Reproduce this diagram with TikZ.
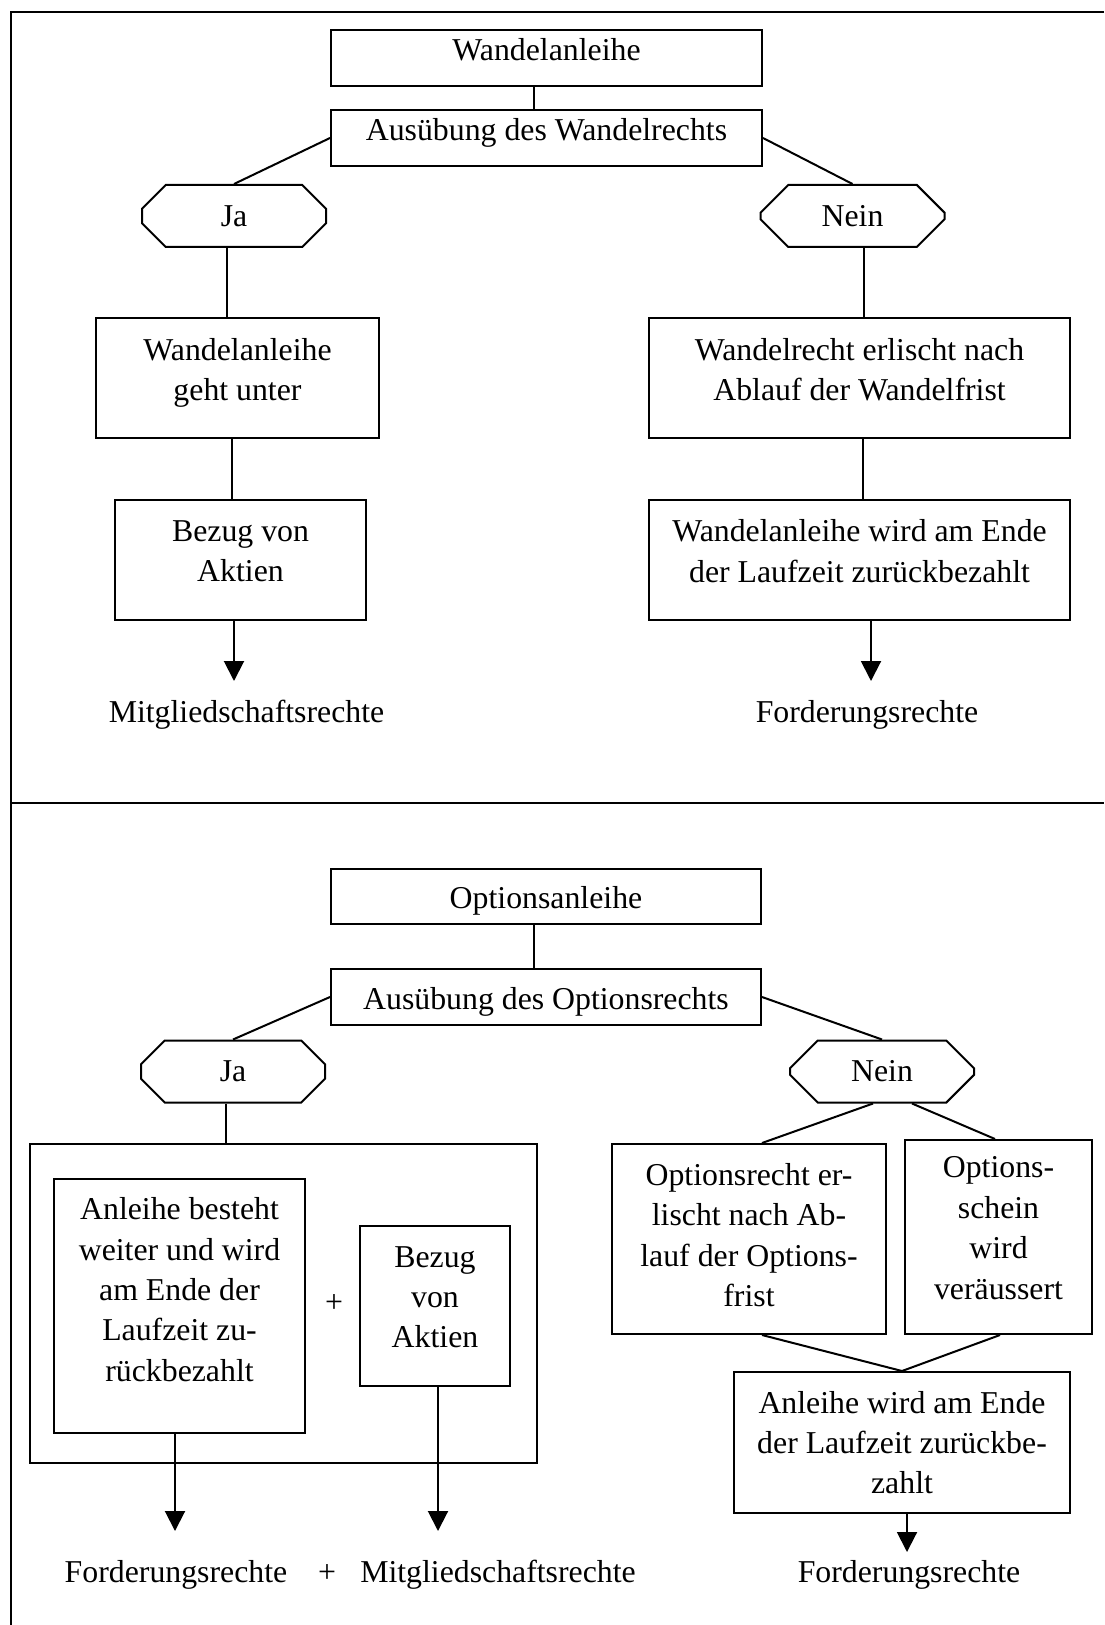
\documentclass[tikz,border=0pt]{standalone}
\usepackage{fontspec}
\setmainfont{Liberation Serif}
\usetikzlibrary{shapes.misc,arrows.meta}

\begin{document}
\begin{tikzpicture}[
        x=0.5pt, y=-0.5pt,
        box/.style={rectangle, draw, line width=1pt, align=center, text depth=9pt, font=\fontsize{15.9}{20.2}\selectfont},
        oct/.style={chamfered rectangle, chamfered rectangle xsep=8.5pt, chamfered rectangle ysep=8.5pt, draw, line width=1pt, minimum width=92pt, minimum height=31pt, inner sep=0pt, font=\fontsize{15.9}{20.2}\selectfont},
        lbl/.style={inner sep=0pt, anchor=base, font=\fontsize{15.9}{20.2}\selectfont},
        link/.style={line width=1pt},
        arr/.style={line width=1pt, -{Triangle[width=10pt,length=10pt]}},
        frame/.style={line width=1.3pt}
    ]
    \useasboundingbox (0,0) rectangle (1104,1625);
    \draw[frame] (1104,12) -- (11,12) -- (11,1625);
    \draw[frame] (11,803) -- (1104,803);

    % Wandelanleihe
    \node[box, minimum width=215.5pt, minimum height=28pt] (wa) at (546.5,58) {Wandelanleihe};
    \node[box, minimum width=215.5pt, minimum height=28pt] (aw) at (546.5,138) {Ausübung des Wandelrechts};
    \node[oct] (ja) at (234,216) {Ja};
    \node[oct] (nein) at (852.5,216) {Nein};
    \node[box, minimum width=141.5pt, minimum height=60pt] (wgu) at (237.5,378.5) {Wandelanleihe\\geht unter};
    \node[box, minimum width=210.5pt, minimum height=60pt] (wef) at (859.5,378.5) {Wandelrecht erlischt nach\\Ablauf der Wandelfrist};
    \node[box, minimum width=125.5pt, minimum height=60pt] (bva) at (240.5,560) {Bezug von\\Aktien};
    \node[box, minimum width=210.5pt, minimum height=60pt] (wzb) at (859.5,560) {Wandelanleihe wird am Ende\\der Laufzeit zurückbezahlt};
    \node[lbl] (mgr) at (246.5,722) {Mitgliedschaftsrechte};
    \node[lbl] (fdr) at (867,722) {Forderungsrechte};
    \coordinate (t1) at (234,681);
    \coordinate (t2) at (871,681);

    \draw[link] ([xshift=-6.25pt]wa.south) -- ([xshift=-6.25pt]aw.north);
    \draw[link] (aw.west) -- (ja.north);
    \draw[link] (aw.east) -- (nein.north);
    \draw[link] ([xshift=-3.5pt]ja.south) -- ([xshift=-5.25pt]wgu.north);
    \draw[link] ([xshift=-2.75pt]wgu.south) -- ([xshift=-4.25pt]bva.north);
    \draw[arr] ([xshift=-3.25pt]bva.south) -- (t1);
    \draw[link] ([xshift=5.75pt]nein.south) -- ([xshift=2.25pt]wef.north);
    \draw[link] ([xshift=1.75pt]wef.south) -- ([xshift=1.75pt]wzb.north);
    \draw[arr] ([xshift=5.75pt]wzb.south) -- (t2);

    % Optionsanleihe
    \node[box, minimum width=215pt, minimum height=27.5pt, text depth=0pt, text height=12pt] (oa) at (546,896.5) {Optionsanleihe};
    \node[box, minimum width=215pt, minimum height=28pt, text depth=3.4pt, text height=16pt] (ao) at (546,997) {Ausübung des Optionsrechts};
    \node[oct] (ja2) at (233,1071.5) {Ja};
    \node[oct] (nein2) at (882,1071.5) {Nein};
    \node[box, minimum width=253.5pt, minimum height=159.5pt] (grp) at (283.5,1303.5) {};
    \node[box, minimum width=125.5pt, minimum height=127pt, text depth=16.5pt] (ab) at (179.5,1306) {Anleihe besteht\\weiter und wird\\am Ende der\\Laufzeit zu-\\rückbezahlt};
    \node[lbl, anchor=center] (plus1) at (334,1304) {+};
    \node[box, minimum width=75pt, minimum height=80pt] (bva2) at (435,1306) {Bezug\\von\\Aktien};
    \node[box, minimum width=137pt, minimum height=95pt, text depth=4pt] (orf) at (749,1239) {Optionsrecht er-\\lischt nach Ab-\\lauf der Options-\\frist};
    \node[box, minimum width=93.5pt, minimum height=97pt] (osw) at (998.5,1237) {Options-\\schein\\wird\\veräussert};
    \node[box, minimum width=168pt, minimum height=70.5pt, text depth=0pt] (azb) at (902,1442.5) {Anleihe wird am Ende\\der Laufzeit zurückbe-\\zahlt};
    \node[lbl] (fdr2) at (176,1582) {Forderungsrechte};
    \node[lbl] (plus2) at (327,1582) {+};
    \node[lbl] (mgr2) at (498,1582) {Mitgliedschaftsrechte};
    \node[lbl] (fdr3) at (909,1582) {Forderungsrechte};
    \coordinate (t3) at (175,1531);
    \coordinate (t4) at (438,1531);
    \coordinate (t5) at (907,1552);

    \draw[link] ([xshift=-6pt]oa.south) -- ([xshift=-6pt]ao.north);
    \draw[link] (ao.west) -- (ja2.north);
    \draw[link] (ao.east) -- (nein2.north);
    \draw[link] ([xshift=-3.5pt]ja2.south) -- ([xshift=-28.75pt]grp.north);
    \draw[arr] ([xshift=-2.25pt]ab.south) -- (t3);
    \draw[arr] ([xshift=1.5pt]bva2.south) -- (t4);
    \draw[link] ([xshift=-4.5pt]nein2.south) -- ([xshift=6.5pt]orf.north);
    \draw[link] ([xshift=15pt]nein2.south) -- ([xshift=-1.75pt]osw.north);
    \draw[link] ([xshift=6.5pt]orf.south) -- (azb.north);
    \draw[link] ([xshift=0.75pt]osw.south) -- (azb.north);
    \draw[arr] ([xshift=2.5pt]azb.south) -- (t5);
\end{tikzpicture}
\end{document}
